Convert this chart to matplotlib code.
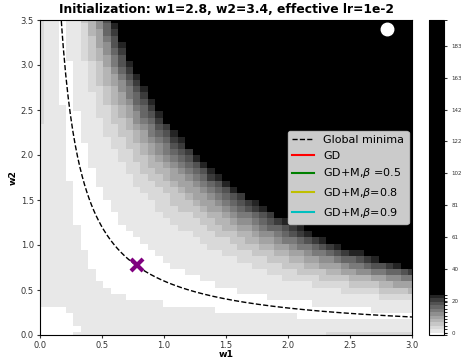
import numpy as np
import matplotlib
matplotlib.use("Agg")
import matplotlib.pyplot as plt
from matplotlib.colors import ListedColormap, BoundaryNorm

# 目标乘积 w1*w2 (global minima curve) 和网格
target = 0.6
w1_grid = np.linspace(0.0, 3.0, 51)
w2_grid = np.linspace(0.0, 3.5, 51)

# 起点与终点
init_point = (2.8, 3.4)
end_point = (0.78, 0.78)

# 色标刻度
cbar_ticks = [0, 20.4, 40.8, 61.2, 81.6, 102.0, 122.4, 142.8, 163.2, 183.6]
cbar_labels = ["0", "20", "40", "61", "81", "102", "122", "142", "163", "183"]
levels = [-1.3, 0.15, 2.3, 4.5, 6.7, 8.9, 11.1, 13.3, 15.5, 17.7, 19.9, 22.1, 24.3, 200.0]
grays = [1.0, 0.91, 0.85, 0.78, 0.71, 0.64, 0.56, 0.48, 0.4, 0.32, 0.23, 0.14, 0.06, 0.0]

# 各方法轨迹（均在视野外，只保留图例）
methods = ["GD", "GD+M,$\\beta$ =0.5", "GD+M,$\\beta$=0.8", "GD+M,$\\beta$=0.9"]
method_colors = ["r", "g", "y", "c"]

W1, W2 = np.meshgrid(w1_grid, w2_grid)
surface = 2.1 * (W1 * W2 - target) ** 2 * (W1 ** 2 + W2 ** 2) ** 0.66

cmap = ListedColormap([str(g) for g in grays])
norm = BoundaryNorm(levels, cmap.N)

fig = plt.figure(figsize=(4.65, 3.61), dpi=100)
ax = fig.add_axes([40 / 465, 1 - 335 / 361, 372 / 465, 315 / 361])
cax = fig.add_axes([429 / 465, 1 - 335 / 361, 15 / 465, 315 / 361])

mesh = ax.pcolormesh(W1, W2, surface, cmap=cmap, norm=norm, shading="nearest")

w1_curve = np.linspace(0.16, 3.0, 300)
ax.plot(w1_curve, target / w1_curve, "k--", lw=1.0, label="Global minima")
for name, col in zip(methods, method_colors):
    ax.plot([], [], color=col, lw=1.5, label=name)

ax.plot(*init_point, "o", color="white", ms=9)
ax.plot(*end_point, "x", color="purple", ms=8, mew=3)

ax.set_xlim(0, 3.0)
ax.set_ylim(0, 3.5)
ax.tick_params(labelsize=6, colors="#333333", length=2.5, pad=2)
ax.set_xlabel("w1", fontsize=6.7, fontweight="bold", labelpad=0)
ax.set_ylabel("w2", fontsize=6.7, fontweight="bold", labelpad=2)
ax.set_title("Initialization: w1=2.8, w2=3.4, effective lr=1e-2",
             fontsize=8.9, fontweight="bold", pad=5)
ax.legend(loc="center right", fontsize=8, borderaxespad=0.3)

cb = fig.colorbar(mesh, cax=cax, spacing="proportional")
cb.set_ticks(cbar_ticks)
cb.set_ticklabels(cbar_labels)
cb.ax.tick_params(labelsize=4, colors="#333333", length=2)

fig.savefig("out.png", dpi=100)
